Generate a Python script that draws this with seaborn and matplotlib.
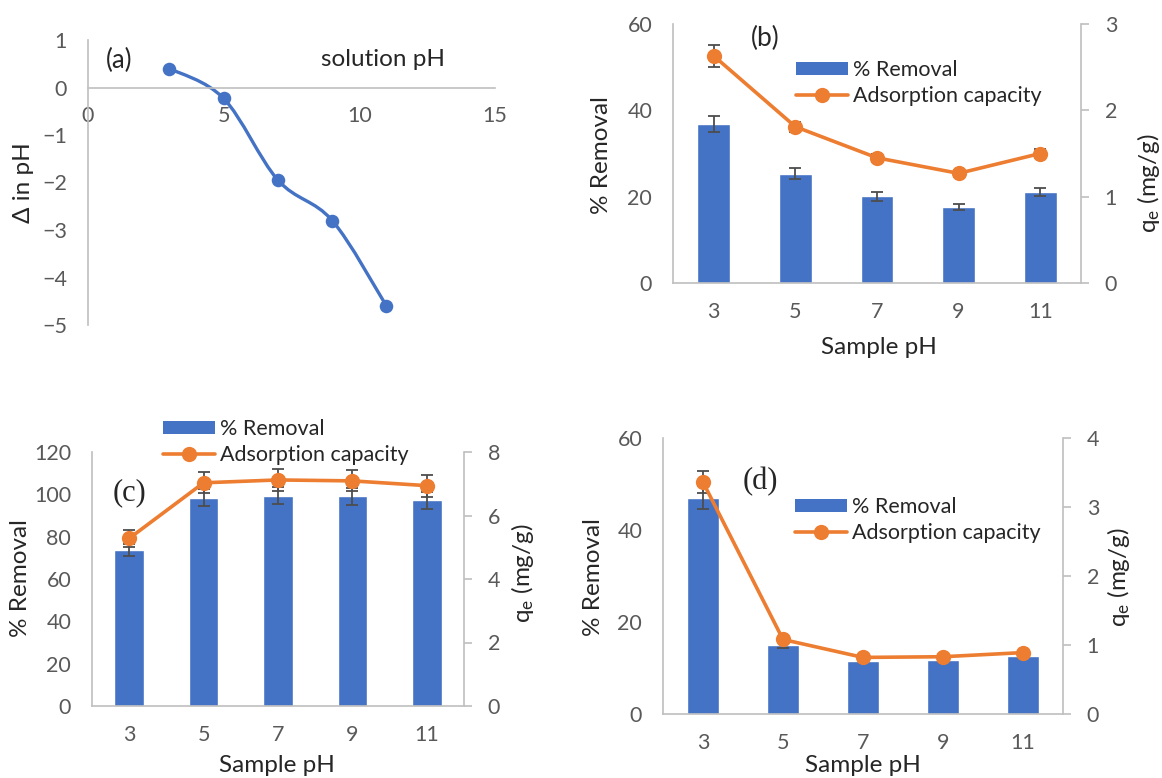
import numpy as np
import matplotlib.pyplot as plt
import seaborn as sns
from matplotlib.path import Path
from matplotlib.patches import PathPatch, Patch
from matplotlib.lines import Line2D

sns.set_style("white")
plt.rcParams['font.family'] = ['Lato', 'DejaVu Sans']
plt.rcParams['mathtext.default'] = 'regular'

# ---- data ----
# (a) change in pH vs solution pH
solution_ph = [3, 5, 7, 9, 11]
delta_ph = [0.4, -0.23, -1.95, -2.8, -4.6]

sample_ph = ['3', '5', '7', '9', '11']

# (b)
removal_b = [36.8, 25.3, 20.1, 17.6, 21.1]
removal_b_err = [1.8, 1.3, 1.0, 0.8, 1.0]
qe_b = [2.63, 1.81, 1.45, 1.27, 1.50]
qe_b_err = [0.13, 0.06, 0.05, 0.04, 0.05]

# (c)
removal_c = [73.7, 98.4, 99.4, 99.0, 97.3]
removal_c_err = [3.0, 4.0, 4.0, 4.0, 4.0]
qe_c = [5.28, 7.03, 7.12, 7.09, 6.94]
qe_c_err = [0.26, 0.33, 0.35, 0.33, 0.35]

# (d)
removal_d = [47.0, 15.0, 11.5, 11.7, 12.6]
removal_d_err = [2.5, 0.7, 0, 0, 0]
qe_d = [3.36, 1.08, 0.82, 0.83, 0.89]
qe_d_err = [0.16, 0, 0, 0, 0]

BLUE = '#4472C4'
ORANGE = '#ED7D31'
ERR = '#4D4D4D'
AXIS = '#BFBFBF'
TICK = '#595959'
W, H = 1162, 778
TICK_FS = 15.5
LABEL_FS = 17.5
LEG_FS = 15.5

fig = plt.figure(figsize=(W / 100, H / 100), dpi=100)


def px_axes(l, t, r, b):
    return fig.add_axes([l / W, 1 - b / H, (r - l) / W, (b - t) / H])


def place(axis, x, y):
    lab = axis.label
    lab.set_rotation_mode('default')
    lab.set_ha('center')
    lab.set_va('center')
    axis.set_label_coords(x / W, 1 - y / H, transform=fig.transFigure)


def style_spines(ax, visible):
    for name, sp in ax.spines.items():
        sp.set_visible(name in visible)
        sp.set_color(AXIS)
        sp.set_linewidth(1.2)


# ---- (a) ----
ax = px_axes(88, 40, 495, 325)
ax.set_xlim(0, 15)
ax.set_ylim(-5, 1)

# smoothed line like the spreadsheet "smooth line" option
pts = np.column_stack([solution_ph, delta_ph]).astype(float)
ext = np.vstack([pts[0], pts, pts[-1]])
verts = [pts[0]]
codes = [Path.MOVETO]
for i in range(len(pts) - 1):
    p0, p1, p2, p3 = ext[i], ext[i + 1], ext[i + 2], ext[i + 3]
    verts += [p1 + (p2 - p0) / 6, p2 - (p3 - p1) / 6, p2]
    codes += [Path.CURVE4] * 3
ax.add_patch(PathPatch(Path(verts, codes), facecolor='none', edgecolor=BLUE,
                       lw=2.4, zorder=2))
sns.scatterplot(x=solution_ph, y=delta_ph, ax=ax, color=BLUE, s=95,
                edgecolor=BLUE, linewidth=0, zorder=3, legend=False)

style_spines(ax, ['left', 'bottom'])
ax.spines['bottom'].set_position(('data', 0))
ax.set_xticks([0, 5, 10, 15])
ax.set_yticks(range(-5, 2))
ax.tick_params(axis='both', length=0, labelsize=TICK_FS, labelcolor=TICK)
ax.tick_params(axis='x', pad=13)
ax.tick_params(axis='y', pad=15)
ax.set_xlabel('solution pH', fontsize=LABEL_FS)
place(ax.xaxis, 383, 59)
ax.set_ylabel('Δ in pH', fontsize=LABEL_FS)
place(ax.yaxis, 24, 183)
ax.text(119, 60, '(a)', transform=None, fontsize=18.5)
ax.texts[-1].set_position((119 / W, 1 - 60 / H))
ax.texts[-1].set_transform(fig.transFigure)
ax.texts[-1].set_ha('center')
ax.texts[-1].set_va('center')


# ---- bar + line panels ----
def panel(box, removal, removal_err, qe, qe_err, lmax, rmax, rstep,
          tag, tag_xy, tag_serif, leg_xy, ylab_xy, rlab_xy, xlab_xy):
    ax = px_axes(*box)
    n = len(sample_ph)
    sns.barplot(x=sample_ph, y=removal, ax=ax, color=BLUE, width=0.4,
                saturation=1, errorbar=None, zorder=2)
    idx = [i for i, e in enumerate(removal_err) if e > 0]
    ax.errorbar(idx, [removal[i] for i in idx], yerr=[removal_err[i] for i in idx],
                fmt='none', ecolor=ERR, elinewidth=1.3, capsize=4.5, capthick=1.3,
                zorder=3)
    ax.set_ylim(0, lmax)
    ax.set_yticks(np.arange(0, lmax + 1, 20))

    ax2 = ax.twinx()
    idx = [i for i, e in enumerate(qe_err) if e > 0]
    ax2.errorbar(idx, [qe[i] for i in idx], yerr=[qe_err[i] for i in idx],
                 fmt='none', ecolor=ERR, elinewidth=1.3, capsize=4.5, capthick=1.3,
                 zorder=2)
    sns.lineplot(x=np.arange(n), y=qe, ax=ax2, color=ORANGE, lw=2.6, marker='o',
                 markersize=11, markeredgewidth=0, zorder=3)
    ax2.set_ylim(0, rmax)
    ax2.set_yticks(np.arange(0, rmax + 0.01, rstep))
    ax.set_xlim(-0.5, n - 0.5)

    style_spines(ax, ['left', 'bottom'])
    style_spines(ax2, ['right'])
    ax.tick_params(axis='both', length=0, labelsize=TICK_FS, labelcolor=TICK)
    ax.tick_params(axis='x', pad=14)
    ax.tick_params(axis='y', pad=15)
    ax2.tick_params(axis='y', length=6, width=1.2, color=AXIS, pad=11,
                    labelsize=TICK_FS, labelcolor=TICK)

    ax.set_xlabel('Sample pH', fontsize=LABEL_FS)
    place(ax.xaxis, *xlab_xy)
    ax.set_ylabel('% Removal', fontsize=LABEL_FS)
    place(ax.yaxis, *ylab_xy)
    ax2.set_ylabel('q$_{e}$ (mg/g)', fontsize=LABEL_FS)
    place(ax2.yaxis, *rlab_xy)

    if tag_serif:
        fig.text(tag_xy[0] / W, 1 - tag_xy[1] / H, tag, ha='center', va='center',
                 fontsize=22, family=['Liberation Serif', 'DejaVu Serif'])
    else:
        fig.text(tag_xy[0] / W, 1 - tag_xy[1] / H, tag, ha='center', va='center',
                 fontsize=19)

    handles = [Patch(facecolor=BLUE, edgecolor='none'),
               Line2D([], [], color=ORANGE, lw=2.6, marker='o', markersize=11,
                      markeredgewidth=0)]
    ax2.legend(handles, ['% Removal', 'Adsorption capacity'], loc='center left',
               bbox_to_anchor=(leg_xy[0] / W, 1 - leg_xy[1] / H),
               bbox_transform=fig.transFigure, frameon=False, fontsize=LEG_FS,
               borderpad=0, borderaxespad=0, handlelength=2.4, handleheight=0.6,
               handletextpad=0.25, labelspacing=0.28)


panel((673, 24, 1081, 283), removal_b, removal_b_err, qe_b, qe_b_err, 60, 3, 1,
      '(b)', (765, 38), False, (796, 83), (602, 155), (1148, 183), (879, 347))
panel((92, 452, 464, 706), removal_c, removal_c_err, qe_c, qe_c_err, 120, 8, 2,
      '(c)', (130, 493), True, (163, 442), (21, 578), (523, 573), (277, 765))
panel((663, 438, 1063, 714), removal_d, removal_d_err, qe_d, qe_d_err, 60, 4, 1,
      '(d)', (760, 482), True, (795, 520), (593, 577), (1118, 577), (863, 765))

fig.savefig('out.png', dpi=100)
